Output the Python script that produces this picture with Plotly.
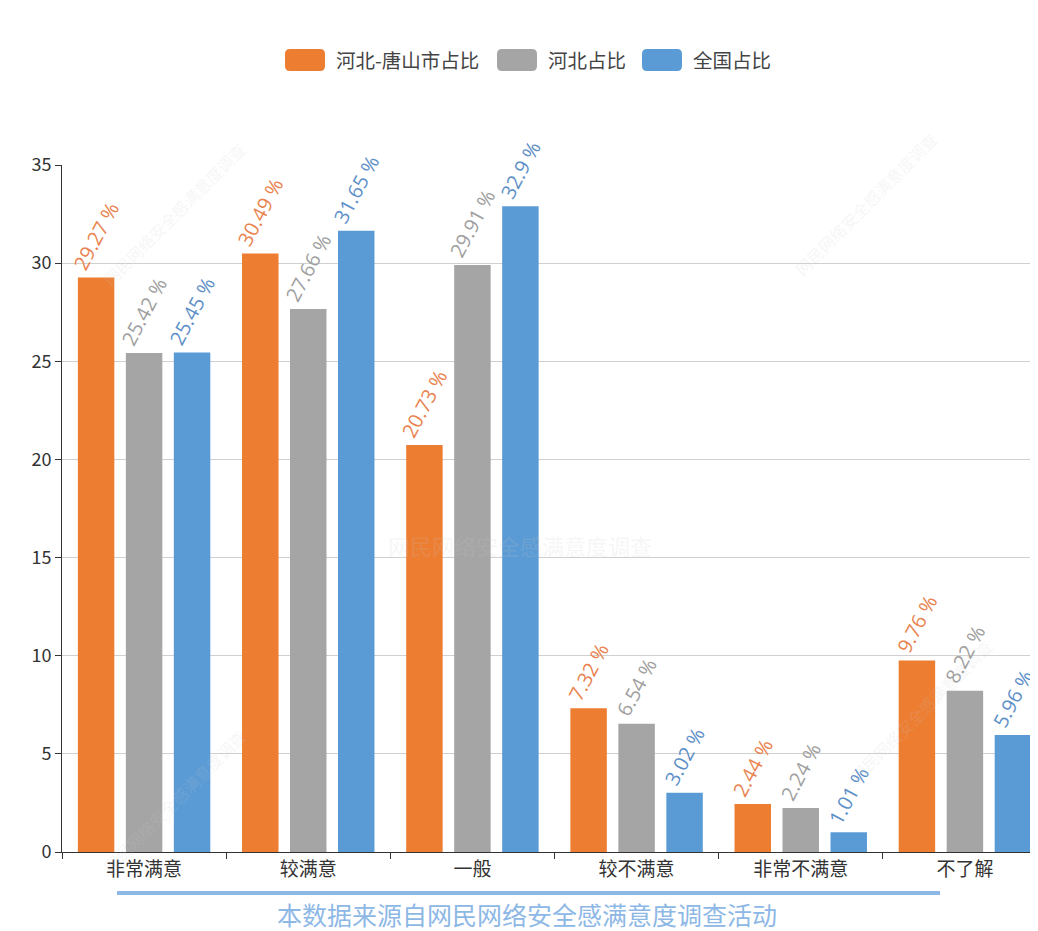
import plotly.graph_objects as go

categories = ["非常满意", "较满意", "一般", "较不满意", "非常不满意", "不了解"]
tangshan = [29.27, 30.49, 20.73, 7.32, 2.44, 9.76]
hebei = [25.42, 27.66, 29.91, 6.54, 2.24, 8.22]
national = [25.45, 31.65, 32.9, 3.02, 1.01, 5.96]
series_names = ["河北-唐山市占比", "河北占比", "全国占比"]
y_ticks = [0, 5, 10, 15, 20, 25, 30, 35]

bar_colors = ["#ED7D31", "#A5A5A5", "#5B9BD5"]
label_colors = ["#E9834F", "#A0A0A0", "#5E90C8"]
FONT = "Noto Sans CJK SC, Open Sans, sans-serif"

# page offset (body margin) and plot geometry in page pixels
OFF = 8
PLOT_LEFT, PLOT_RIGHT, PLOT_TOP, PLOT_BOTTOM = 62, 1047, 165, 852
W, H = 1040, 931 - OFF
L, T = PLOT_LEFT - OFF, PLOT_TOP - OFF
PW = PLOT_RIGHT - PLOT_LEFT
PH = PLOT_BOTTOM - PLOT_TOP
R = W - L - PW
B = H - T - PH


def px(xp):
    return (xp - PLOT_LEFT) / PW


def py(yp):
    return (PLOT_BOTTOM - yp) / PH


fig = go.Figure()
for name, vals, bc, lc in zip(series_names, [tangshan, hebei, national], bar_colors, label_colors):
    fig.add_trace(go.Bar(
        x=categories, y=vals, name=name,
        marker=dict(color=bc, line=dict(width=0)),
        text=[f"{v:g} %" for v in vals],
        textposition="outside",
        textangle=-62,
        textfont=dict(color=lc, size=20, family="Open Sans, sans-serif"),
        cliponaxis=False,
        constraintext="none",
        showlegend=False,
    ))

fig.update_layout(
    width=W, height=H,
    margin=dict(l=L, r=R, t=T, b=B, autoexpand=False),
    paper_bgcolor="white", plot_bgcolor="white",
    barmode="group", bargap=0.123, bargroupgap=0.24,
    font=dict(family=FONT, color="#333"),
)

fig.update_yaxes(range=[0, 35], tickvals=y_ticks, showgrid=True, gridcolor="#D0D0D0",
                 gridwidth=1, showline=True, linecolor="#333", linewidth=1,
                 ticks="outside", ticklen=6, tickcolor="#333",
                 tickfont=dict(size=18, color="#333"), zeroline=False)
fig.update_xaxes(showline=True, linecolor="#333", linewidth=1, ticks="outside",
                 tickson="boundaries", ticklen=6, tickcolor="#333",
                 tickfont=dict(size=19, color="#333"))

# custom legend (rounded rect swatches)
legend_items = [(285, 334), (497, 546), (642, 691)]
for (sx, tx), name, col in zip(legend_items, series_names, bar_colors):
    x0, x1 = px(sx), px(sx + 40)
    y0, y1 = py(71), py(49)
    rx = 5 / PW
    ry = 5 / PH
    path = (f"M {x0+rx},{y0} L {x1-rx},{y0} Q {x1},{y0} {x1},{y0+ry} "
            f"L {x1},{y1-ry} Q {x1},{y1} {x1-rx},{y1} L {x0+rx},{y1} "
            f"Q {x0},{y1} {x0},{y1-ry} L {x0},{y0+ry} Q {x0},{y0} {x0+rx},{y0} Z")
    fig.add_shape(type="path", path=path, xref="paper", yref="paper",
                  fillcolor=col, line=dict(width=0))
    fig.add_annotation(text=name, xref="paper", yref="paper", x=px(tx), y=py(60),
                       xanchor="left", yanchor="middle", showarrow=False,
                       font=dict(size=19.5, color="#444", family=FONT))

# bottom source line and text
fig.add_shape(type="line", xref="paper", yref="paper", x0=px(117), x1=px(940),
              y0=py(893), y1=py(893), line=dict(color="#8DB8E6", width=4))
fig.add_annotation(text="本数据来源自网民网络安全感满意度调查活动", xref="paper", yref="paper",
                   x=px(527), y=py(914), showarrow=False, yanchor="middle",
                   font=dict(size=25, color="#8DB8E6", family=FONT))

# faint watermarks
fig.add_annotation(text="网民网络安全感满意度调查", xref="paper", yref="paper",
                   x=px(520), y=py(545), showarrow=False,
                   font=dict(size=22, color="rgba(200,200,200,0.18)", family=FONT))
for (wx, wy) in [(95, 135), (945, 125), (95, 880), (1000, 790)]:
    fig.add_annotation(text="网民网络安全感满意度调查", xref="paper", yref="paper",
                       x=px(wx), y=py(wy), showarrow=False, textangle=-45,
                       font=dict(size=16, color="rgba(200,200,200,0.18)", family=FONT))

fig.write_html("out.html")
